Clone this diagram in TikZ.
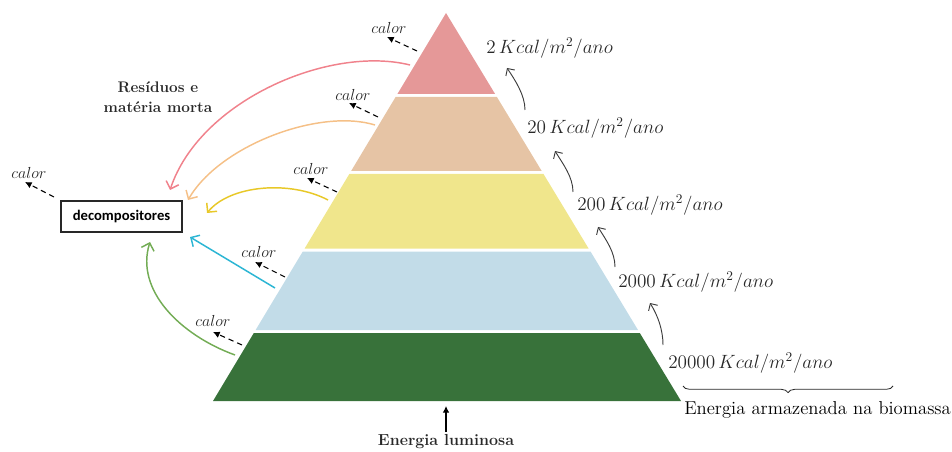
\documentclass[tikz,border=0pt]{standalone}
\usepackage{fontspec}
\newfontfamily\calibri{Carlito}
\usetikzlibrary{decorations.pathreplacing,arrows.meta}
\definecolor{bandpink}{RGB}{229,152,152}
\definecolor{bandtan}{RGB}{230,196,165}
\definecolor{bandyellow}{RGB}{240,230,140}
\definecolor{bandblue}{RGB}{194,220,232}
\definecolor{bandgreen}{RGB}{56,114,58}
\definecolor{arpink}{RGB}{240,130,140}
\definecolor{artan}{RGB}{245,192,135}
\definecolor{aryellow}{RGB}{232,200,40}
\definecolor{arblue}{RGB}{45,182,212}
\definecolor{argreen}{RGB}{115,172,85}
\definecolor{txt}{RGB}{40,40,40}
\tikzset{
  kcal/.style={anchor=west, inner sep=0pt, text=txt, font=\fontsize{14.4}{16}\selectfont},
  calorlbl/.style={anchor=center, inner sep=0pt, text=txt, font=\fontsize{12}{14}\selectfont},
  heatarrow/.style={dashed, dash pattern=on 4pt off 3pt, line width=0.8pt, -{Latex[length=5pt,width=5pt]}},
  flowarrow/.style={line width=0.7pt, txt!90, -{Straight Barb[length=4pt,width=8pt]}},
  detarrow/.style={line width=1.1pt, -{Straight Barb[length=5pt,width=10pt]}},
  boldlbl/.style={inner sep=0pt, text=txt, font=\fontsize{11.5}{14}\selectfont\bfseries, align=center}
}
\begin{document}
\begin{tikzpicture}[x=0.75pt,y=-0.75pt]
\useasboundingbox (0,0) rectangle (952,452);
% pyramid bands
\fill[bandpink] (446,13) -- (495.1,94) -- (397.4,94) -- cycle;
\fill[bandtan] (395.6,97) -- (496.9,97) -- (541.7,171) -- (351.1,171) -- cycle;
\fill[bandyellow] (349.3,174) -- (543.5,174) -- (588.6,248.5) -- (304.6,248.5) -- cycle;
\fill[bandblue] (302.8,251.5) -- (590.5,251.5) -- (638,330) -- (255.6,330) -- cycle;
\fill[bandgreen] (253.8,333) -- (639.8,333) -- (681,401) -- (213,401) -- cycle;

% energy labels
\node[kcal] (k1) at (486,48) {$2\,Kcal/m^2/ano$};
\node[kcal] (k2) at (527,128) {$20\,Kcal/m^2/ano$};
\node[kcal] (k3) at (577,205) {$200\,Kcal/m^2/ano$};
\node[kcal] (k4) at (618,282) {$2000\,Kcal/m^2/ano$};
\node[kcal] (k5) at (668,363) {$20000\,Kcal/m^2/ano$};

% upward flow arrows
\coordinate (b1) at (525,110); \coordinate (t1) at (507,68);
\coordinate (b2) at (573,192); \coordinate (t2) at (555,151);
\coordinate (b3) at (615,267); \coordinate (t3) at (598,227);
\coordinate (b4) at (663,345); \coordinate (t4) at (650,303);
\draw[flowarrow] (b1) .. controls (525,95) and (515,80) .. (t1);
\draw[flowarrow] (b2) .. controls (573,177) and (563,164) .. (t2);
\draw[flowarrow] (b3) .. controls (615,252) and (606,240) .. (t3);
\draw[flowarrow] (b4) .. controls (663,330) and (658,316) .. (t4);

% brace and biomass label
\coordinate (brl) at (683,386);
\coordinate (brr) at (893,386);
\draw[txt, line width=0.6pt, decorate, decoration={brace, amplitude=5pt, mirror}] (brl) -- (brr);
\node[anchor=west, inner sep=0pt, text=black, font=\fontsize{14}{15}\selectfont] (bio) at (684,410) {Energia armazenada na biomassa};

% light energy
\node[boldlbl, font=\fontsize{12}{14}\selectfont\bfseries] (luz) at (446,442) {Energia luminosa};
\coordinate (luzt) at (446,406);
\draw[line width=0.8pt, -{Latex[length=5pt,width=5pt]}] (446,432) -- (luzt);

% decompositores
\node[draw=txt, line width=0.8pt, inner sep=0pt, minimum width=121pt*0.75, minimum height=31pt*0.75, text=black, font=\calibri\bfseries\fontsize{11}{13}\selectfont] (dec) at (121.5,216.5) {decompositores};

\node[boldlbl] (res) at (158,97) {Resíduos e\\[1pt]matéria morta};

% calor labels and dashed arrows
\node[calorlbl] (c1) at (389,28) {$calor$};
\node[calorlbl] (c2) at (353,95) {$calor$};
\node[calorlbl] (c3) at (311,169) {$calor$};
\node[calorlbl] (c4) at (29,173) {$calor$};
\node[calorlbl] (c5) at (259,252) {$calor$};
\node[calorlbl] (c6) at (213,321) {$calor$};
\coordinate (h1) at (417,51); \draw[heatarrow] (h1) -- (387,37);
\coordinate (h2) at (378,117); \draw[heatarrow] (h2) -- (349,103);
\coordinate (h3) at (337,192); \draw[heatarrow] (h3) -- (307,178);
\coordinate (h4) at (54,197); \draw[heatarrow] (h4) -- (25,182);
\coordinate (h5) at (285,277); \draw[heatarrow] (h5) -- (255,262);
\coordinate (h6) at (242,345); \draw[heatarrow] (h6) -- (213,332);

% detritus arrows to decomposers
\coordinate (p0) at (410,65); \coordinate (p1) at (170,190);
\draw[detarrow, arpink] (p0) .. controls (330,45) and (200,100) .. (p1);
\coordinate (q0) at (375,125); \coordinate (q1) at (188,200);
\draw[detarrow, artan] (q0) .. controls (320,108) and (220,145) .. (q1);
\coordinate (y0) at (328,200); \coordinate (y1) at (207,213);
\draw[detarrow, aryellow] (y0) .. controls (290,180) and (230,185) .. (y1);
\coordinate (u0) at (275,288); \coordinate (u1) at (190,237);
\draw[detarrow, arblue] (u0) -- (u1);
\coordinate (g0) at (235,355); \coordinate (g1) at (150,242);
\draw[detarrow, argreen] (g0) .. controls (180,335) and (135,290) .. (g1);
\end{tikzpicture}
\end{document}
